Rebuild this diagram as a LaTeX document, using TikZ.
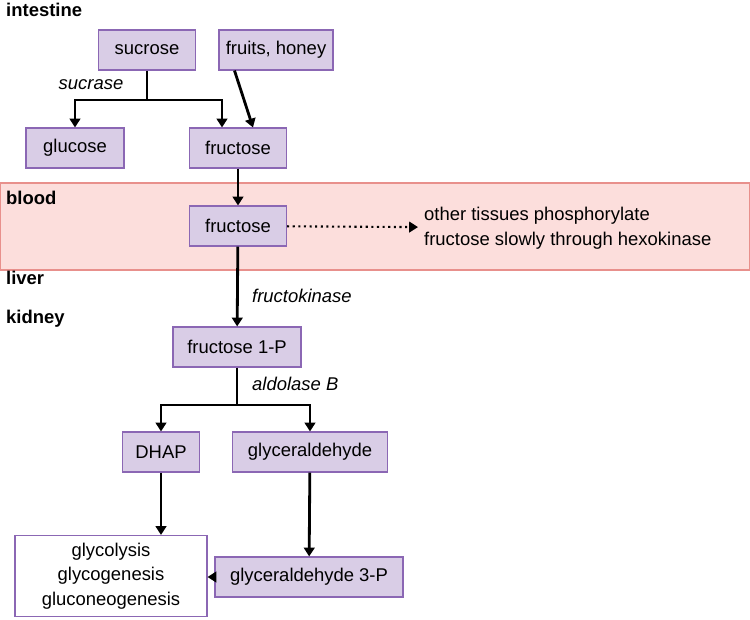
\documentclass[tikz,border=0pt]{standalone}
\usepackage{fontspec}
\setmainfont{Liberation Sans}
\usetikzlibrary{arrows.meta}
\definecolor{boxfill}{HTML}{D9CDE6}
\definecolor{boxline}{HTML}{8B67B4}
\definecolor{bandfill}{HTML}{FCDEDC}
\definecolor{bandline}{HTML}{E8908C}
\tikzset{
  box/.style={draw=boxline,fill=boxfill,line width=0.6pt,minimum height=0.8cm,inner sep=0pt,font=\fontsize{10.5}{13}\selectfont},
  path/.style={line width=1.6pt,-{Triangle[length=5pt,width=6pt]}},
  enz/.style={font=\itshape\fontsize{10.5}{13}\selectfont},
  organ/.style={font=\bfseries\fontsize{10.5}{13}\selectfont,anchor=west,align=left}
}
\begin{document}
\begin{tikzpicture}[x=0.02cm,y=-0.02cm]
  \useasboundingbox (0,0) rectangle (750,619);
  % blood band
  \draw[fill=bandfill,draw=bandline,line width=0.6pt] (0.5,183) rectangle (749.5,270);
  %% labels of the organs
  \node[organ] at (0,10) {intestine};
  \node[organ] at (0,198) {blood};
  \node[organ,font=\bfseries\fontsize{10.5}{22}\selectfont] at (0,299) {liver\\kidney};
  %% the boxes
  \node[box,minimum width=1.94cm] (sucrose) at (147,50) {sucrose};
  \node[box,minimum width=2.28cm] (fruits) at (276,50) {fruits, honey};
  \node[box,minimum width=1.96cm] (glucose) at (75,148) {glucose};
  \node[box,minimum width=1.94cm] (fructose) at (238,148) {fructose};
  \node[box,minimum width=1.94cm] (fructoseb) at (238,226) {fructose};
  \node[box,minimum width=2.56cm] (f1p) at (237,347) {fructose 1-P};
  \node[box,minimum width=1.54cm] (dhap) at (161,452) {DHAP};
  \node[box,minimum width=3.10cm] (glyc) at (310,452) {glyceraldehyde};
  \node[box,minimum width=3.76cm] (g3p) at (309,577) {glyceraldehyde 3-P};
  \node[box,fill=white,minimum width=3.84cm,minimum height=1.62cm,align=center,
        font=\fontsize{10.5}{14}\selectfont] (fate) at (111,576) {glycolysis\\glycogenesis\\gluconeogenesis};
  \node[anchor=west,align=left,font=\fontsize{10.5}{14}\selectfont] (tissues) at (418,228)
    {other tissues phosphorylate\\fructose slowly through hexokinase};
  %% connectors
  \coordinate (split1) at (147,100);
  \draw[line width=1.6pt] (sucrose) -- (split1);
  \draw[path] (split1) -| (glucose);
  \draw[path] (split1) -| ([xshift=-0.32cm]fructose.north);
  \draw[path] ([xshift=0.32cm]fruits.south west) -- ([xshift=0.3cm]fructose.north);
  \draw[path] (fructose) -- (fructoseb);
  \draw[path] (fructoseb) -- (f1p);
  \draw[line width=1.2pt,dotted,-{Triangle[length=5pt,width=6pt]}] (fructoseb) -- (tissues);
  \coordinate (split2) at (237,405);
  \draw[line width=1.6pt] (f1p) -- (split2);
  \draw[path] (split2) -| (dhap);
  \draw[path] (split2) -| (glyc);
  \draw[path] (dhap) -- (dhap |- fate.north);
  \draw[path] (glyc) -- (g3p);
  \draw[path] (g3p) -- (g3p -| fate.east);
  %% enzymes
  \node[enz] (sucrase) at (91,85) {sucrase};
  \node[enz,anchor=west] (fk) at (246,296) {fructokinase};
  \node[enz,anchor=west] (aldo) at (246,384) {aldolase B};
\end{tikzpicture}
\end{document}
